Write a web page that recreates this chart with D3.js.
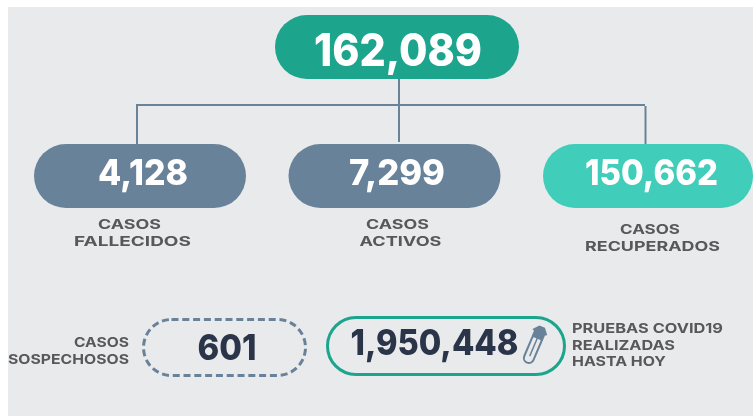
<!DOCTYPE html>
<html>
<head>
<meta charset="utf-8">
<script src="https://cdn.jsdelivr.net/npm/d3@7"></script>
<style>
  html, body { margin: 0; padding: 0; background: #fff; }
  svg { display: block; }
  text { font-family: Inter, "Open Sans", sans-serif; }
  .value { font-weight: 800; text-anchor: middle; }
  .label { font-weight: 700; font-size: 13.5px; fill: #58595b; }
</style>
</head>
<body>
<svg id="chart" width="753" height="416"></svg>
<script>
// values
const totalValue = 162089;
const categories = ["fallecidos", "activos", "recuperados"];
const categoryValues = [4128, 7299, 150662];
const categoryLabels = [["CASOS", "FALLECIDOS"], ["CASOS", "ACTIVOS"], ["CASOS", "RECUPERADOS"]];
const suspectedValue = 601;
const suspectedLabel = ["CASOS", "SOSPECHOSOS"];
const testsValue = 1950448;
const testsLabel = ["PRUEBAS COVID19", "REALIZADAS", "HASTA HOY"];

const colors = { panel: "#e9eaec", total: "#1ba58c", slate: "#688299", mint: "#41cdb9", dark: "#2c3648" };
const fmt = d3.format(",");

const svg = d3.select("#chart");

// the source is a soft screenshot, a little blur gets the same edges
svg.append("filter").attr("id", "soft")
    .append("feGaussianBlur").attr("stdDeviation", 0.45);

svg.append("rect")
    .attr("x", 8).attr("y", 7)
    .attr("width", 745).attr("height", 409)
    .attr("fill", colors.panel);

const root = svg.append("g").attr("filter", "url(#soft)");

// three pills sit evenly spaced
const x = d3.scalePoint().domain(categories).range([140, 649]);
const pillFill = d3.scaleOrdinal().domain(categories).range([colors.slate, colors.slate, colors.mint]);

// connectors, drawn first so the pills cover their ends
const dropX = [137, 399, 645.5];
const dropTop = [105, 78, 106];
const dropBottom = [144, 142, 144];
const lines = root.append("g").attr("stroke", colors.slate).attr("stroke-width", 2).attr("fill", "none");
lines.append("line").attr("x1", 136).attr("x2", 645).attr("y1", 105).attr("y2", 105);
lines.selectAll(".drop")
    .data(categories)
    .join("line")
    .classed("drop", true)
    .attr("x1", (d, i) => dropX[i])
    .attr("x2", (d, i) => dropX[i])
    .attr("y1", (d, i) => dropTop[i])
    .attr("y2", (d, i) => dropBottom[i]);

// total pill
root.append("rect")
    .attr("x", 275).attr("y", 15)
    .attr("width", 244).attr("height", 64)
    .attr("rx", 32)
    .attr("fill", colors.total);
root.append("text")
    .classed("value", true)
    .attr("x", 398).attr("y", 66)
    .attr("font-size", 45)
    .attr("textLength", 168)
    .attr("lengthAdjust", "spacingAndGlyphs")
    .attr("fill", "#fff")
    .text(fmt(totalValue));

// category pills
const valueWidths = [90, 96, 133];
const valueX = [143, 397, 651.5];
const labelY = [229, 229, 234];
const labelWidths = [[63, 117], [63, 82], [60, 135]];
const labelX = [[129.5, 132.5], [397.5, 400.5], [650, 652.5]];

const pills = root.selectAll(".pill")
    .data(categories)
    .join("g")
    .classed("pill", true);

pills.append("rect")
    .attr("x", d => x(d) - 106)
    .attr("y", 144)
    .attr("width", d => d === "recuperados" ? 210 : 212)
    .attr("height", 64)
    .attr("rx", 32)
    .attr("fill", d => pillFill(d));

pills.append("text")
    .classed("value", true)
    .attr("x", (d, i) => valueX[i])
    .attr("y", 185)
    .attr("font-size", 36)
    .attr("textLength", (d, i) => valueWidths[i])
    .attr("lengthAdjust", "spacingAndGlyphs")
    .attr("fill", "#fff")
    .text((d, i) => fmt(categoryValues[i]));

pills.each(function (d, i) {
    d3.select(this).selectAll(".label")
        .data(categoryLabels[i])
        .join("text")
        .classed("label", true)
        .attr("text-anchor", "middle")
        .attr("x", (t, j) => labelX[i][j])
        .attr("y", (t, j) => labelY[i] + j * 16.5)
        .attr("textLength", (t, j) => labelWidths[i][j])
        .attr("lengthAdjust", "spacingAndGlyphs")
        .text(t => t);
});

// suspected cases
root.append("rect")
    .attr("x", 143.5).attr("y", 319.5)
    .attr("width", 162).attr("height", 56)
    .attr("rx", 28)
    .attr("fill", "none")
    .attr("stroke", colors.slate)
    .attr("stroke-width", 3)
    .attr("stroke-dasharray", "7 3.8");
root.append("text")
    .classed("value", true)
    .attr("x", 227).attr("y", 360)
    .attr("font-size", 36)
    .attr("textLength", 59)
    .attr("lengthAdjust", "spacingAndGlyphs")
    .attr("fill", colors.dark)
    .text(fmt(suspectedValue));
const suspectedWidths = [55, 121];
root.selectAll(".sus")
    .data(suspectedLabel)
    .join("text")
    .classed("sus label", true)
    .attr("text-anchor", "end")
    .attr("x", 129)
    .attr("y", (t, j) => 347 + j * 16.5)
    .attr("textLength", (t, j) => suspectedWidths[j])
    .attr("lengthAdjust", "spacingAndGlyphs")
    .text(t => t);

// tests
root.append("rect")
    .attr("x", 327.5).attr("y", 317.5)
    .attr("width", 237).attr("height", 57)
    .attr("rx", 28.5)
    .attr("fill", "none")
    .attr("stroke", colors.total)
    .attr("stroke-width", 3);
root.append("text")
    .classed("value", true)
    .attr("x", 434.5).attr("y", 355)
    .attr("font-size", 36)
    .attr("textLength", 168)
    .attr("lengthAdjust", "spacingAndGlyphs")
    .attr("fill", colors.dark)
    .text(fmt(testsValue));

// swab icon
const icon = root.append("g").attr("transform", "translate(534,346) rotate(23)");
icon.append("rect")
    .attr("x", -5).attr("y", -12)
    .attr("width", 10).attr("height", 30)
    .attr("rx", 5)
    .attr("fill", "none")
    .attr("stroke", colors.slate)
    .attr("stroke-width", 2);
icon.append("line")
    .attr("x1", 0).attr("x2", 0).attr("y1", -10).attr("y2", 11)
    .attr("stroke", colors.slate)
    .attr("stroke-width", 1.5);
icon.append("path")
    .attr("d", "M-6,-8 L-6,-14 L-8,-15 L-3,-21 L3,-21 L8,-15 L6,-14 L6,-8 Z")
    .attr("fill", colors.slate);

const testsWidths = [151, 103, 94];
root.selectAll(".tests")
    .data(testsLabel)
    .join("text")
    .classed("tests label", true)
    .attr("x", 572)
    .attr("y", (t, j) => 333 + j * 16.5)
    .attr("textLength", (t, j) => testsWidths[j])
    .attr("lengthAdjust", "spacingAndGlyphs")
    .text(t => t);
</script>
</body>
</html>
